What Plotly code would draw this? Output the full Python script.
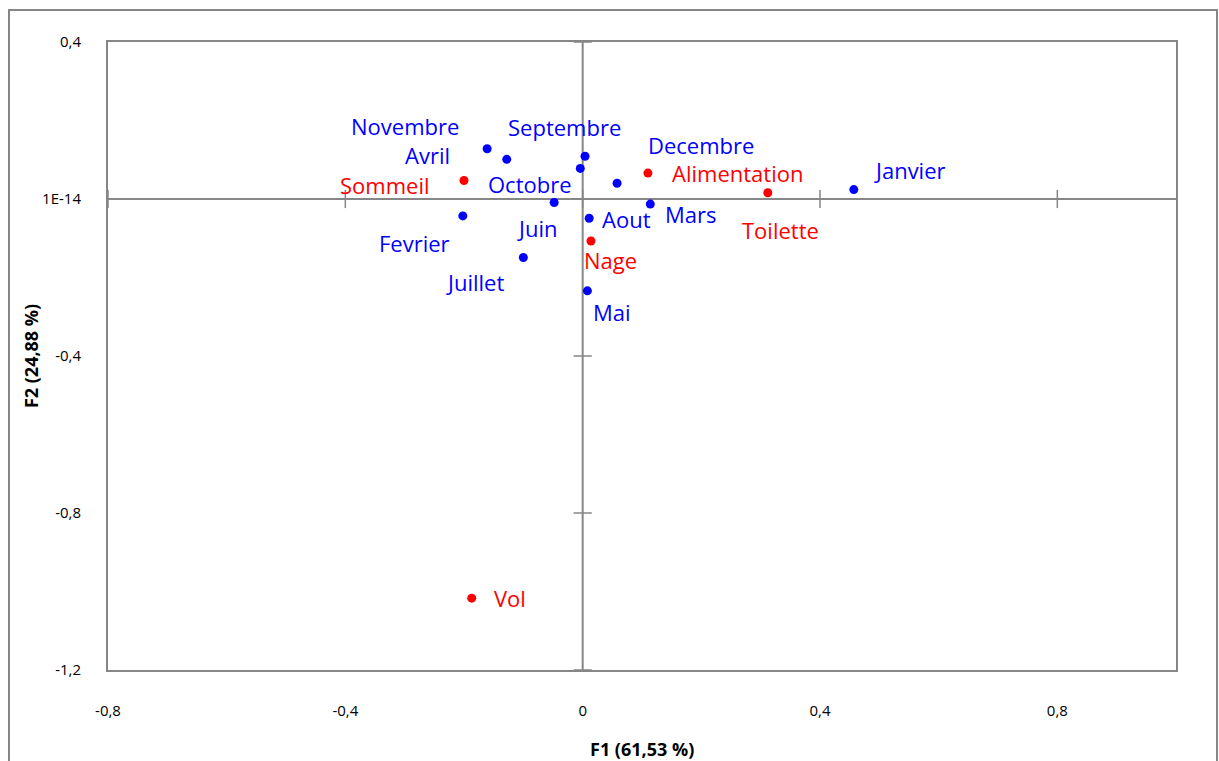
import plotly.graph_objects as go

# Factor map coordinates (F1, F2)
months = ["Novembre", "Avril", "Septembre", "Octobre", "Decembre", "Janvier",
          "Juin", "Mars", "Fevrier", "Aout", "Juillet", "Mai"]
months_f1 = [-0.161, -0.128, 0.004, -0.004, 0.058, 0.457,
             -0.048, 0.114, -0.202, 0.011, -0.100, 0.008]
months_f2 = [0.128, 0.101, 0.109, 0.078, 0.040, 0.024,
             -0.009, -0.013, -0.043, -0.049, -0.149, -0.234]

activities = ["Sommeil", "Alimentation", "Toilette", "Nage", "Vol"]
activities_f1 = [-0.200, 0.110, 0.312, 0.014, -0.187]
activities_f2 = [0.047, 0.066, 0.016, -0.107, -1.017]

x_ticks = [-0.8, -0.4, 0, 0.4, 0.8]
x_tick_labels = ["-0,8", "-0,4", "0", "0,4", "0,8"]
y_ticks = [-1.2, -0.8, -0.4, 0, 0.4]
y_tick_labels = ["-1,2", "-0,8", "-0,4", "1E-14", "0,4"]

x_title = "F1 (61,53 %)"
y_title = "F2 (24,88 %)"

# label offsets in pixels (dx, dy) from each point
month_offsets = {
    "Novembre": (-82, -23), "Avril": (-79, -4), "Septembre": (-21, -29),
    "Octobre": (-50, 16), "Decembre": (84, -38), "Janvier": (56, -20),
    "Juin": (-17, 25), "Mars": (41, 10), "Fevrier": (-48, 27),
    "Aout": (37, 1), "Juillet": (-48, 25), "Mai": (25, 21),
}
activity_offsets = {
    "Sommeil": (-79, 4), "Alimentation": (90, 0), "Toilette": (13, 37),
    "Nage": (20, 19), "Vol": (38, 0),
}

BLUE = "#0000FF"
RED = "#FF0000"
GREY = "#868686"
FONT = "Open Sans"
LABEL_SIZE = 22

fig = go.Figure()

# axes through the origin, with cross tick marks
fig.add_shape(type="line", xref="x", yref="y", x0=-0.8, x1=1.0, y0=0, y1=0,
              line=dict(color=GREY, width=2), layer="below")
fig.add_shape(type="line", xref="x", yref="y", x0=0, x1=0, y0=-1.2, y1=0.4,
              line=dict(color=GREY, width=2), layer="below")
fig.add_trace(go.Scatter(
    x=x_ticks, y=[0] * len(x_ticks), mode="markers", hoverinfo="skip",
    marker=dict(symbol="line-ns", size=13, line=dict(color=GREY, width=1.5)),
    showlegend=False))
fig.add_trace(go.Scatter(
    x=[0] * len(y_ticks), y=y_ticks, mode="markers", hoverinfo="skip",
    marker=dict(symbol="line-ew", size=13, line=dict(color=GREY, width=1.5)),
    showlegend=False))

fig.add_trace(go.Scatter(
    x=months_f1, y=months_f2, mode="markers", name="Mois",
    marker=dict(color=BLUE, size=9), showlegend=False))
fig.add_trace(go.Scatter(
    x=activities_f1, y=activities_f2, mode="markers", name="Activités",
    marker=dict(color=RED, size=9), showlegend=False))

for name, fx, fy in zip(months, months_f1, months_f2):
    dx, dy = month_offsets[name]
    fig.add_annotation(x=fx, y=fy, text=name, showarrow=True, arrowcolor="rgba(0,0,0,0)",
                       ax=dx, ay=dy, borderpad=0,
                       font=dict(family=FONT, size=LABEL_SIZE, color=BLUE))
for name, fx, fy in zip(activities, activities_f1, activities_f2):
    dx, dy = activity_offsets[name]
    fig.add_annotation(x=fx, y=fy, text=name, showarrow=True, arrowcolor="rgba(0,0,0,0)",
                       ax=dx, ay=dy, borderpad=0,
                       font=dict(family=FONT, size=LABEL_SIZE, color=RED))

# axis titles
fig.add_annotation(xref="paper", yref="paper", x=0.5, y=-0.125, yanchor="middle",
                   text=f"<b>{x_title}</b>", showarrow=False,
                   font=dict(family=FONT, size=18, color="black"))
fig.add_annotation(xref="paper", yref="paper", x=-0.072, y=0.5, xanchor="center",
                   text=f"<b>{y_title}</b>", textangle=-90, showarrow=False,
                   font=dict(family=FONT, size=18, color="black"))

# outer chart border
fig.add_shape(type="rect", xref="paper", yref="paper",
              x0=-0.0927, x1=1.0384, y0=-0.2, y1=1.051,
              line=dict(color=GREY, width=2))

fig.update_xaxes(range=[-0.8, 1.0], tickvals=x_ticks, ticktext=x_tick_labels,
                 showgrid=False, zeroline=False, showline=True, mirror=True,
                 linecolor=GREY, linewidth=2, ticks="", ticklabelstandoff=26,
                 tickfont=dict(family=FONT, size=15, color="black"))
fig.update_yaxes(range=[-1.2, 0.4], tickvals=y_ticks, ticktext=y_tick_labels,
                 showgrid=False, zeroline=False, showline=True, mirror=True,
                 linecolor=GREY, linewidth=2, ticks="", ticklabelstandoff=22,
                 tickfont=dict(family=FONT, size=15, color="black"))

fig.update_layout(width=1219, height=761, plot_bgcolor="white", paper_bgcolor="white",
                  margin=dict(l=108, r=43, t=42, b=91), showlegend=False)

fig.write_html("out.html")
